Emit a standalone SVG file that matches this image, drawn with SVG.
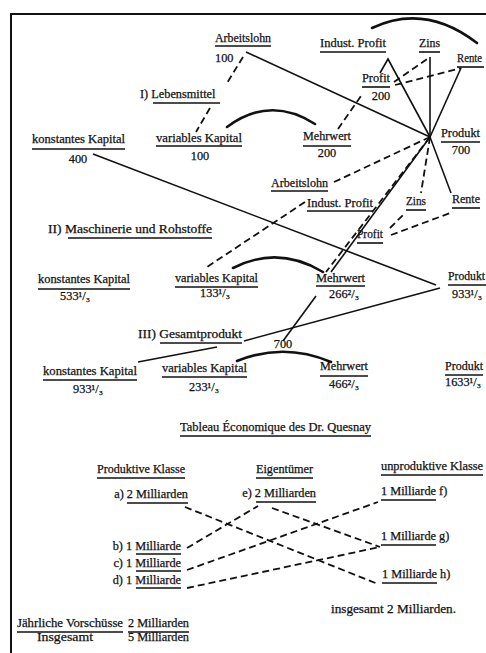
<svg xmlns="http://www.w3.org/2000/svg" width="486" height="653" viewBox="0 0 486 653">
<style>
text{font-family:"Liberation Serif","DejaVu Serif",serif;font-size:12.3px;fill:#111;stroke:#111;stroke-width:0.25}
.m{text-anchor:middle}
.e{text-anchor:end}
.u{stroke:#111;stroke-width:1.6;fill:none}
.s{stroke:#111;stroke-width:1.6;fill:none}
.d{stroke:#111;stroke-width:1.8;fill:none;stroke-dasharray:7 4}
.a{stroke:#111;stroke-width:2.6;fill:none;stroke-linecap:round}
</style>
<rect width="486" height="653" fill="#fff"/>
<path d="M11,653 V14 H486" stroke="#111" stroke-width="2" fill="none"/>

<g id="connectors">
  <path class="s" d="M246,52 L430,137"/>
  <path class="s" d="M93,154 L436,285"/>
  <path class="s" d="M430,137 L388,59 L380,73"/>
  <path class="s" d="M430,137 L430,57"/>
  <path class="s" d="M430,137 L461,68"/>
  <path class="s" d="M430,137 L331,272"/>
  <path class="s" d="M430,137 L451,193"/>
  <path class="s" d="M440,288 L244,341"/>
  <path class="s" d="M316,296 L283,341"/>
  <path class="s" d="M138,362 L217,347"/>
  <path class="d" d="M243,57 L227,83"/>
  <path class="d" d="M210,108 L196,132"/>
  <path class="d" d="M338,129 L363,93"/>
  <path class="d" d="M394,82 L430,57"/>
  <path class="d" d="M395,85 L461,68"/>
  <path class="d" d="M430,137 L332,183"/>
  <path class="d" d="M430,137 L326,272"/>
  <path class="d" d="M430,137 L421,193"/>
  <path class="d" d="M305,202 L207,267"/>
  <path class="d" d="M390,228 L405,213"/>
  <path class="d" d="M391,235 L453,212"/>
  <path class="d" d="M185,507 L378,584"/>
  <path class="d" d="M187,548 L258,506"/>
  <path class="d" d="M272,508 L380,547"/>
  <path class="d" d="M187,570 L378,502"/>
  <path class="d" d="M187,588 L380,547"/>
  <path class="a" d="M227,127 Q270,95 315,124"/>
  <path class="a" d="M372,28 Q425,3 477,43"/>
  <path class="a" d="M233,268 Q278,245 323,272"/>
  <path class="a" d="M237,361 Q284,342 331,362"/>
</g>

<g id="arbeitslohn1"><text x="215" y="42" textLength="56" lengthAdjust="spacingAndGlyphs">Arbeitslohn</text><line class="u" x1="215" y1="46" x2="271" y2="46"/><text x="215" y="62">100</text></g>
<g id="lebensmittel"><text x="140" y="98">I) <tspan>Lebensmittel</tspan></text><line class="u" x1="153" y1="103" x2="220" y2="103"/></g>
<g id="varkap1"><text x="156" y="142" textLength="86" lengthAdjust="spacingAndGlyphs">variables Kapital</text><line class="u" x1="156" y1="146" x2="242" y2="146"/><text class="m" x="200" y="160">100</text></g>
<g id="konstkap1"><text x="32" y="143" textLength="93" lengthAdjust="spacingAndGlyphs">konstantes Kapital</text><line class="u" x1="32" y1="149" x2="125" y2="149"/><text class="m" x="78" y="163">400</text></g>
<g id="mehrwert1"><text x="303" y="140" textLength="48" lengthAdjust="spacingAndGlyphs">Mehrwert</text><line class="u" x1="303" y1="146" x2="351" y2="146"/><text class="m" x="327" y="157">200</text></g>
<g id="indprofit1"><text x="320" y="47" textLength="66" lengthAdjust="spacingAndGlyphs">Indust. Profit</text><line class="u" x1="320" y1="52" x2="386" y2="52"/></g>
<g id="zins1"><text x="419" y="47" textLength="21" lengthAdjust="spacingAndGlyphs">Zins</text><line class="u" x1="419" y1="52" x2="440" y2="52"/></g>
<g id="rente1"><text x="457" y="62" textLength="25" lengthAdjust="spacingAndGlyphs">Rente</text><line class="u" x1="457" y1="67" x2="484" y2="67"/></g>
<g id="profit1"><text x="362" y="82" textLength="28" lengthAdjust="spacingAndGlyphs">Profit</text><line class="u" x1="362" y1="87" x2="390" y2="87"/><text class="m" x="381" y="100">200</text></g>
<g id="produkt1"><text x="441" y="137" textLength="39" lengthAdjust="spacingAndGlyphs">Produkt</text><line class="u" x1="441" y1="142" x2="480" y2="142"/><text class="m" x="461" y="154">700</text></g>

<g id="arbeitslohn2"><text x="271" y="187" textLength="57" lengthAdjust="spacingAndGlyphs">Arbeitslohn</text><line class="u" x1="271" y1="191" x2="328" y2="191"/></g>
<g id="indprofit2"><text x="307" y="207" textLength="66" lengthAdjust="spacingAndGlyphs">Indust. Profit</text><line class="u" x1="307" y1="211" x2="373" y2="211"/></g>
<g id="zins2"><text x="406" y="205" textLength="20" lengthAdjust="spacingAndGlyphs">Zins</text><line class="u" x1="406" y1="210" x2="426" y2="210"/></g>
<g id="rente2"><text x="452" y="203" textLength="28" lengthAdjust="spacingAndGlyphs">Rente</text><line class="u" x1="452" y1="208" x2="480" y2="208"/></g>
<g id="profit2"><text x="357" y="238" textLength="26" lengthAdjust="spacingAndGlyphs">Profit</text><line class="u" x1="357" y1="243" x2="383" y2="243"/></g>
<g id="maschinerie"><text x="48" y="233" textLength="164" lengthAdjust="spacingAndGlyphs">II) Maschinerie und Rohstoffe</text><line class="u" x1="68" y1="238" x2="212" y2="238"/></g>
<g id="konstkap2"><text x="38" y="283" textLength="92" lengthAdjust="spacingAndGlyphs">konstantes Kapital</text><line class="u" x1="38" y1="289" x2="130" y2="289"/><text class="m" x="75" y="300">533¹/₃</text></g>
<g id="varkap2"><text x="175" y="282" textLength="83" lengthAdjust="spacingAndGlyphs">variables Kapital</text><line class="u" x1="175" y1="287" x2="258" y2="287"/><text class="m" x="215" y="297">133¹/₃</text></g>
<g id="mehrwert2"><text x="316" y="282" textLength="49" lengthAdjust="spacingAndGlyphs">Mehrwert</text><line class="u" x1="316" y1="286" x2="365" y2="286"/><text class="m" x="344" y="298">266²/₃</text></g>
<g id="produkt2"><text x="448" y="280" textLength="37" lengthAdjust="spacingAndGlyphs">Produkt</text><line class="u" x1="448" y1="285" x2="486" y2="285"/><text class="m" x="467" y="298">933¹/₃</text></g>
<g id="gesamtprodukt"><text x="138" y="338" textLength="104" lengthAdjust="spacingAndGlyphs">III) Gesamtprodukt</text><line class="u" x1="160" y1="343" x2="242" y2="343"/></g>
<g id="n700"><text class="m" x="283" y="348">700</text></g>
<g id="konstkap3"><text x="43" y="375" textLength="94" lengthAdjust="spacingAndGlyphs">konstantes Kapital</text><line class="u" x1="43" y1="380" x2="137" y2="380"/><text class="m" x="88" y="393">933¹/₃</text></g>
<g id="varkap3"><text x="162" y="372" textLength="85" lengthAdjust="spacingAndGlyphs">variables Kapital</text><line class="u" x1="162" y1="377" x2="247" y2="377"/><text class="m" x="204" y="391">233¹/₃</text></g>
<g id="mehrwert3"><text x="320" y="370" textLength="48" lengthAdjust="spacingAndGlyphs">Mehrwert</text><line class="u" x1="320" y1="376" x2="368" y2="376"/><text class="m" x="344" y="388">466²/₃</text></g>
<g id="produkt3"><text x="445" y="370" textLength="38" lengthAdjust="spacingAndGlyphs">Produkt</text><line class="u" x1="445" y1="375" x2="483" y2="375"/><text x="445" y="386">1633¹/₃</text></g>

<g id="title"><text x="180" y="431" textLength="191" lengthAdjust="spacingAndGlyphs">Tableau Économique des Dr. Quesnay</text><line class="u" x1="180" y1="436" x2="371" y2="436"/></g>
<g id="produktive"><text x="97" y="473" textLength="88" lengthAdjust="spacingAndGlyphs">Produktive Klasse</text><line class="u" x1="97" y1="478" x2="185" y2="478"/></g>
<g id="pa"><text class="e" x="188" y="498">a) 2 Milliarden</text><line class="u" x1="127" y1="503" x2="188" y2="503"/></g>
<g id="pb"><text class="e" x="181" y="550">b) 1 Milliarde</text><line class="u" x1="136" y1="554" x2="181" y2="554"/></g>
<g id="pc"><text class="e" x="181" y="567">c) 1 Milliarde</text><line class="u" x1="136" y1="571" x2="181" y2="571"/></g>
<g id="pd"><text class="e" x="181" y="584">d) 1 Milliarde</text><line class="u" x1="136" y1="588" x2="181" y2="588"/></g>
<g id="eigentuemer"><text x="256" y="473" textLength="57" lengthAdjust="spacingAndGlyphs">Eigentümer</text><line class="u" x1="256" y1="478" x2="313" y2="478"/></g>
<g id="pe"><text class="e" x="316" y="497">e) 2 Milliarden</text><line class="u" x1="256" y1="502" x2="316" y2="502"/></g>
<g id="unproduktive"><text x="381" y="470" textLength="102" lengthAdjust="spacingAndGlyphs">unproduktive Klasse</text><line class="u" x1="381" y1="475" x2="483" y2="475"/></g>
<g id="pf"><text x="381" y="495">1 Milliarde f)</text><line class="u" x1="381" y1="500" x2="436" y2="500"/></g>
<g id="pg"><text x="381" y="540">1 Milliarde g)</text><line class="u" x1="381" y1="545" x2="436" y2="545"/></g>
<g id="ph"><text x="382" y="578">1 Milliarde h)</text><line class="u" x1="382" y1="583" x2="437" y2="583"/></g>
<g id="insg2"><text x="331" y="613" textLength="125" lengthAdjust="spacingAndGlyphs">insgesamt 2 Milliarden.</text></g>
<g id="vorschuesse"><text x="17" y="627" textLength="106" lengthAdjust="spacingAndGlyphs">Jährliche Vorschüsse</text><line class="u" x1="17" y1="632" x2="123" y2="632"/><text x="128" y="627" textLength="61" lengthAdjust="spacingAndGlyphs">2 Milliarden</text><line class="u" x1="128" y1="632" x2="189" y2="632"/></g>
<g id="insgesamt"><text x="37" y="641" textLength="56" lengthAdjust="spacingAndGlyphs">Insgesamt</text><text x="128" y="641" textLength="61" lengthAdjust="spacingAndGlyphs">5 Milliarden</text></g>
</svg>
